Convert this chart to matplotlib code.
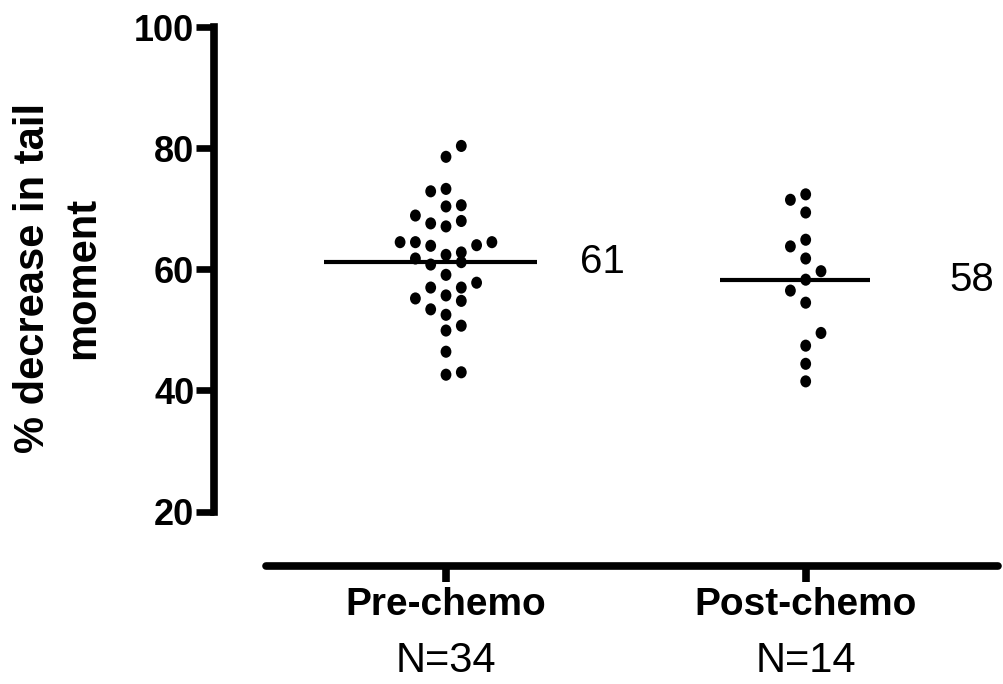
import numpy as np
import matplotlib
matplotlib.use('Agg')
import matplotlib.pyplot as plt
from matplotlib.path import Path
from matplotlib.transforms import Affine2D

plt.rcParams['font.family'] = ['Liberation Sans', 'DejaVu Sans']

# data
groups = ['Pre-chemo', 'Post-chemo']
counts = ['N=34', 'N=14']
pre_vals = [80.4, 78.6, 72.9, 73.3, 70.4, 70.6, 68.9, 67.6, 67.1, 68.0,
            64.5, 64.5, 63.9, 64.0, 64.5, 61.8, 62.4, 62.8, 60.8, 61.2,
            59.1, 57.0, 57.0, 57.8, 55.2, 55.7, 54.8, 53.4, 52.5, 49.9,
            50.7, 46.4, 42.6, 43.0]
# swarm column of each point (-3..3)
pre_cols = [1, 0, -1, 0, 0, 1, -2, -1, 0, 1,
            -3, -2, -1, 2, 3, -2, 0, 1, -1, 1,
            0, -1, 1, 2, -2, 0, 1, -1, 0, 0,
            1, 0, 0, 1]
post_vals = [72.4, 71.5, 69.4, 64.9, 63.8, 61.8, 59.7, 58.3, 56.5, 54.5,
             49.5, 47.4, 44.4, 41.5]
post_cols = [0, -1, 0, 0, -1, 0, 1, 0, -1, 0,
             1, 0, 0, 0]

W, H = 1004, 684
px = 359.7  # pixels per category unit
fig = plt.figure(figsize=(W / 100, H / 100), dpi=100)
ax = fig.add_axes([214.5 / W, 1 - 511.5 / H, (W - 214.5) / W, (511.5 - 27.3) / H])

# slightly tall dots, like the original export
dot = Path.unit_circle().transformed(Affine2D().scale(1.0, 1.12))

step = 15.3 / px
for i, (vals, cols) in enumerate([(pre_vals, pre_cols), (post_vals, post_cols)]):
    xpos = i + 1 + np.array(cols) * step
    ax.scatter(xpos, vals, s=76, marker=dot, color='black', edgecolors='none',
               zorder=3, clip_on=False)

# mean lines and labels
means = [np.mean(pre_vals), np.mean(post_vals)]
line_ext = [(122, 91), (86, 64)]
label_x = [134, 144]
for i, m in enumerate(means):
    l, r = line_ext[i]
    ax.plot([i + 1 - l / px, i + 1 + r / px], [m, m], color='black', lw=3, solid_capstyle='butt')
    ax.text(i + 1 + label_x[i] / px, m, f'{m:.0f}', fontsize=29, va='center', ha='left')

ax.set_xlim(1 - (446 - 214.5) / px, 2 + (W - 805.7) / px)
ax.set_ylim(20, 100)

for s in ['top', 'right']:
    ax.spines[s].set_visible(False)
ax.spines['left'].set_linewidth(5.5)
ax.spines['left'].set_capstyle('projecting')
ax.spines['bottom'].set_linewidth(5.5)
ax.spines['bottom'].set_position(('outward', 54 * 0.72))
ax.spines['bottom'].set_bounds(1 - (446 - 266) / px, 2 + (998 - 805.7) / px)
ax.spines['bottom'].set_capstyle('round')

ax.set_yticks([20, 40, 60, 80, 100])
ax.tick_params(axis='y', length=13, width=4.8, labelsize=26, pad=1.5)
for lab in ax.get_yticklabels():
    lab.set_fontweight('bold')

ax.set_xticks([1, 2])
ax.set_xticklabels([])
ax.tick_params(axis='x', length=11.5, width=5.5)
for i, (g, c) in enumerate(zip(groups, counts)):
    ax.annotate(g, xy=(i + 1, 1 - 605 / H), xycoords=('data', 'figure fraction'),
                ha='center', va='center', fontsize=28, fontweight='bold')
    ax.annotate(c, xy=(i + 1, 1 - 661 / H), xycoords=('data', 'figure fraction'),
                ha='center', va='center', fontsize=30)

fig.text(58 / W, 1 - 278 / H, '% decrease in tail\nmoment', rotation=90,
         ha='center', va='center', fontsize=30, fontweight='bold', linespacing=1.3)

fig.savefig('out.png', dpi=100)
